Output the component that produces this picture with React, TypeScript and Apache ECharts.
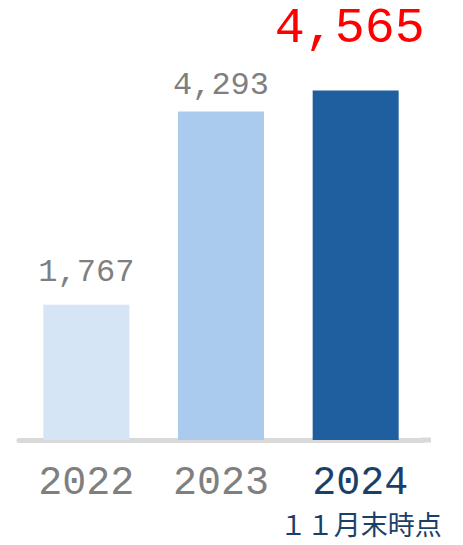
import React, { useEffect, useRef } from "react";
import * as echarts from "echarts";

const categories = ["2022", "2023", "2024"];
const values = [1767, 4293, 4565];
const barColors = ["#d5e5f6", "#aacbee", "#1f5f9f"];
const subLabel = "１１月末時点";

const NUM_FONT = "'Liberation Mono', 'DejaVu Sans Mono', monospace";
const CJK_FONT = "'Noto Sans CJK JP', sans-serif";

export default function App() {
  const ref = useRef<HTMLDivElement>(null);
  useEffect(() => {
    if (!ref.current) return;
    const chart = echarts.init(ref.current, undefined, { renderer: "svg" });
    const fmt = (p: any) => Number(p.value).toLocaleString("en-US");
    chart.setOption({
      animation: false,
      grid: { left: 19, width: 404, top: 42, bottom: 105, containLabel: false },
      xAxis: {
        type: "category",
        data: categories,
        axisTick: { show: false },
        axisLine: { show: true, lineStyle: { color: "#d9d9d9", width: 5 } },
        axisLabel: {
          margin: 21,
          interval: 0,
          formatter: (v: string) =>
            v === "2024" ? `{b|${v}}\n{s|${subLabel}}` : `{a|${v}}`,
          rich: {
            a: { fontSize: 40, lineHeight: 44, color: "#7f7f7f", fontFamily: NUM_FONT },
            b: { fontSize: 40, lineHeight: 44, color: "#1b3f6b", fontFamily: NUM_FONT, padding: [0, 0, 0, 9] },
            s: { fontSize: 27, lineHeight: 28, color: "#1b3f6b", fontFamily: CJK_FONT, padding: [8, 0, 0, 10] },
          },
        },
      },
      yAxis: { type: "value", min: 0, max: 5200, show: false, splitLine: { show: false } },
      graphic: [
        { type: "rect", shape: { x: 421, y: 437.5, width: 10, height: 5 }, style: { fill: "#d9d9d9" }, silent: true },
      ],
      series: [
        {
          type: "bar",
          barWidth: 86,
          data: values.map((v, i) => ({
            value: v,
            itemStyle: { color: barColors[i] },
            label:
              i === 2
                ? { show: true, position: "top", distance: 37, offset: [-6, 0], fontSize: 50, lineHeight: 50, color: "#ff0000", fontFamily: NUM_FONT, formatter: fmt }
                : { show: true, position: "top", distance: i === 1 ? 10 : 16, fontSize: 32, lineHeight: 32, color: "#7f7f7f", fontFamily: NUM_FONT, formatter: fmt },
          })),
        },
      ],
    });
    return () => chart.dispose();
  }, []);
  return <div ref={ref} style={{ width: 463, height: 545, position: "absolute", left: 0, top: 0 }} />;
}
